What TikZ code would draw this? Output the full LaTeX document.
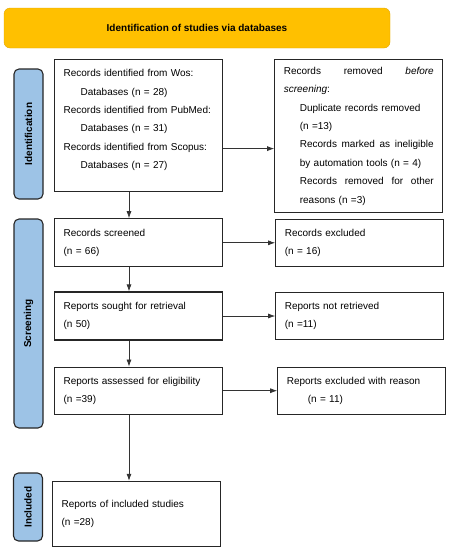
\documentclass[tikz,border=0pt]{standalone}
\usepackage{fontspec}
\setmainfont{Liberation Sans}
\usepackage{tikz}
\usetikzlibrary{arrows, arrows.meta, positioning, calc}
\definecolor{prisma_gold}{HTML}{FFC000}
\definecolor{prisma_goldline}{HTML}{E3A600}
\definecolor{prisma_blue}{HTML}{9DC3E6}
\definecolor{prisma_ink}{HTML}{262626}
\tikzset{
  banner/.style={rectangle,rounded corners=6pt,draw=prisma_goldline,fill=prisma_gold,minimum width=386pt,minimum height=40pt,font=\bfseries\fontsize{10}{12}\selectfont},
  phase/.style={rectangle,rounded corners=5pt,draw=prisma_ink,line width=1.1pt,fill=prisma_blue,rotate=90,minimum height=29pt,font=\bfseries\fontsize{10}{12}\selectfont},
  record/.style={rectangle,draw=prisma_ink,line width=1.2pt,fill=white,text width=150pt,inner xsep=9pt,align=left,font=\fontsize{10}{18.4}\selectfont},
  flow/.style={-{Latex[length=7pt,width=5pt]},line width=0.75pt,black!80},
}
\newcommand{\ind}{\hspace*{17pt}}

\begin{document}
\begin{tikzpicture}[x=1pt,y=-1pt]
	\useasboundingbox (0,0) rectangle (453,550);
	\node[banner] (title) at (197,28) {Identification of studies via databases};
	% phases
	\node[phase,minimum width=130pt] (idphase) at (28.5,134) {Identification};
	\node[phase,minimum width=209pt] (scphase) at (28.5,323.5) {Screening};
	\node[phase,minimum width=68pt] (inphase) at (28,507) {Included};
	% left column
	\node[record,anchor=north west,minimum height=132pt] (wos) at (54,59) {Records identified from Wos:\\
		\ind Databases (n = 28)\\
		Records identified from PubMed:\\
		\ind Databases (n = 31)\\
		Records identified from Scopus:\\
		\ind Databases (n = 27)\par\kern11pt\hrule height 0pt};
	\node[record,below=26pt of wos,minimum height=48pt] (screened) {Records screened\\(n = 66)};
	\node[record,below=24pt of screened,minimum height=48pt] (sought) {Reports sought for retrieval\\(n 50)};
	\node[record,below=26pt of sought,minimum height=47pt] (assessed) {Reports assessed for eligibility\\(n =39)};
	\node[record,below=66pt of assessed.south east,anchor=north east,xshift=-2pt,minimum height=65pt] (included) {Reports of included studies\\(n =28)};
	% right column
	\node[record,right=51pt of wos.north east,anchor=north west,minimum height=153pt] (removed) {Records\hfill removed\hfill \textit{before}\\
		\textit{screening}:\\
		\hspace*{16pt}Duplicate records removed\\
		\hspace*{16pt}(n =13)\\
		\hspace*{16pt}Records\hfill marked\hfill as\hfill ineligible\\
		\hspace*{16pt}by automation tools (n = 4)\\
		\hspace*{16pt}Records\hfill removed\hfill for\hfill other\\
		\hspace*{16pt}reasons (n =3)};
	\node[record,right=52pt of screened,minimum height=47pt] (excluded) {Records excluded\\(n = 16)};
	\node[record,right=52pt of sought,minimum height=47pt] (notretrieved) {Reports not retrieved\\(n =11)};
	\node[record,right=54pt of assessed,minimum height=47pt] (reason) {Reports excluded with reason\\\hspace*{21pt}(n = 11)};
	% connectors
	\coordinate (spine) at (129,0);
	\coordinate (wosout) at ([yshift=-23pt]wos.east);
	\draw[flow] (wos.south -| spine) -- (screened.north -| spine);
	\draw[flow] (screened.south -| spine) -- (sought.north -| spine);
	\draw[flow] (sought.south -| spine) -- (assessed.north -| spine);
	\draw[flow] (assessed.south -| spine) -- (included.north -| spine);
	\draw[flow] (wosout) -- (wosout -| removed.west);
	\draw[flow] (screened.east) -- (screened.east -| excluded.west);
	\draw[flow] (sought.east) -- (sought.east -| notretrieved.west);
	\draw[flow] (assessed.east) -- (assessed.east -| reason.west);
\end{tikzpicture}
\end{document}
